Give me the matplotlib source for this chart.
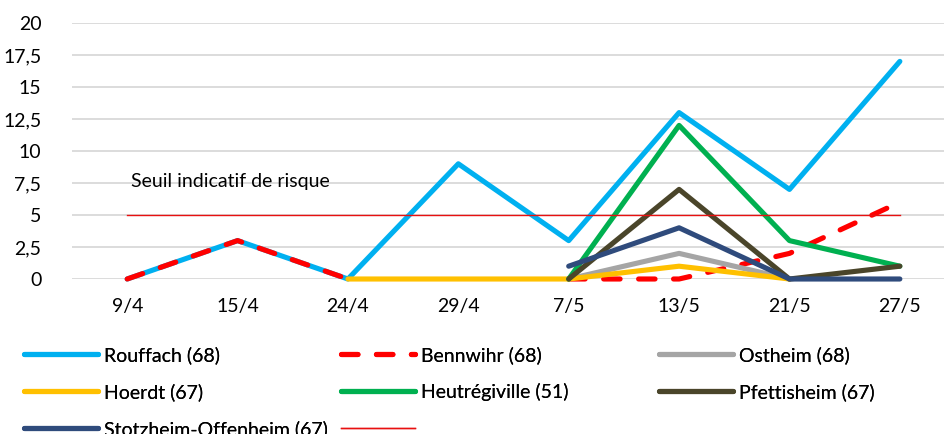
import matplotlib
matplotlib.use("Agg")
import matplotlib.pyplot as plt
import matplotlib.ticker as mticker
import numpy as np

nan = np.nan

dates = ["9/4", "15/4", "24/4", "29/4", "7/5", "13/5", "21/5", "27/5"]

rouffach = [0, 3, 0, 9, 3, 13, 7, 17]
bennwihr = [0, 3, 0, nan, 0, 0, 2, 6]
ostheim = [nan, nan, nan, nan, 0, 2, 0, nan]
hoerdt = [nan, nan, 0, 0, 0, 1, 0, nan]
heutregiville = [nan, nan, nan, nan, 0, 12, 3, 1]
pfettisheim = [nan, nan, nan, nan, 0, 7, 0, 1]
stotzheim = [nan, nan, nan, nan, 1, 4, 0, 0]
seuil = [5, 5, 5, 5, 5, 5, 5, 5]

y_ticks = [0, 2.5, 5, 7.5, 10, 12.5, 15, 17.5, 20]

plt.rcParams["font.family"] = ["Lato", "DejaVu Sans"]

fig = plt.figure(figsize=(9.44, 4.34), dpi=100)
ax = fig.add_axes([72 / 944, 1 - 279 / 434, 1 - 72 / 944, 256 / 434])

x = np.arange(len(dates))
lw = 3.7
kw = dict(lw=lw, solid_capstyle="round", clip_on=False)

h_rouf, = ax.plot(x, rouffach, color="#00B0F0", **kw)
h_benn, = ax.plot(x, bennwihr, color="#FF0000", lw=lw, dashes=(3.2, 3.6),
                  dash_capstyle="round", clip_on=False)
h_osth, = ax.plot(x, ostheim, color="#A5A5A5", **kw)
h_hoer, = ax.plot(x, hoerdt, color="#FFC000", **kw)
h_heut, = ax.plot(x, heutregiville, color="#00B050", **kw)
h_pfet, = ax.plot(x, pfettisheim, color="#4A452A", **kw)
h_stot, = ax.plot(x, stotzheim, color="#2F4B7C", **kw)
h_seuil, = ax.plot(x, seuil, color="#E81010", lw=1.0)

ax.text(0.03, 7.65, "Seuil indicatif de risque", fontsize=14, va="center", ha="left")

ax.set_xlim(-0.5, 7.4)
ax.set_ylim(0, 20)
ax.set_yticks(y_ticks)
ax.yaxis.set_major_formatter(mticker.FuncFormatter(lambda v, p: f"{v:g}".replace(".", ",")))
ax.set_xticks(x)
ax.set_xticklabels(dates)
ax.tick_params(axis="both", length=0, labelsize=14)
ax.tick_params(axis="y", pad=22)
ax.tick_params(axis="x", pad=14)
ax.grid(axis="y", color="#D9D9D9", lw=1.3)
ax.set_axisbelow(True)
for s in ax.spines.values():
    s.set_visible(False)

# legend: three columns placed like the original
cols = [
    ([h_rouf, h_hoer, h_stot], ["Rouffach (68)", "Hoerdt (67)", "Stotzheim-Offenheim (67)"], 24),
    ([h_benn, h_heut, h_seuil], ["Bennwihr (68)", "Heutrégiville (51)", ""], 341),
    ([h_osth, h_pfet], ["Ostheim (68)", "Pfettisheim (67)"], 659),
]
for handles, labels, xpx in cols:
    leg = fig.legend(handles, labels, loc="upper left",
                     bbox_to_anchor=(xpx / 944, 1 - 346 / 434),
                     frameon=False, fontsize=14, handlelength=3.8,
                     handletextpad=0.3, labelspacing=0.99, borderpad=0,
                     borderaxespad=0)
    fig.add_artist(leg)

fig.savefig("out.png", dpi=100)
